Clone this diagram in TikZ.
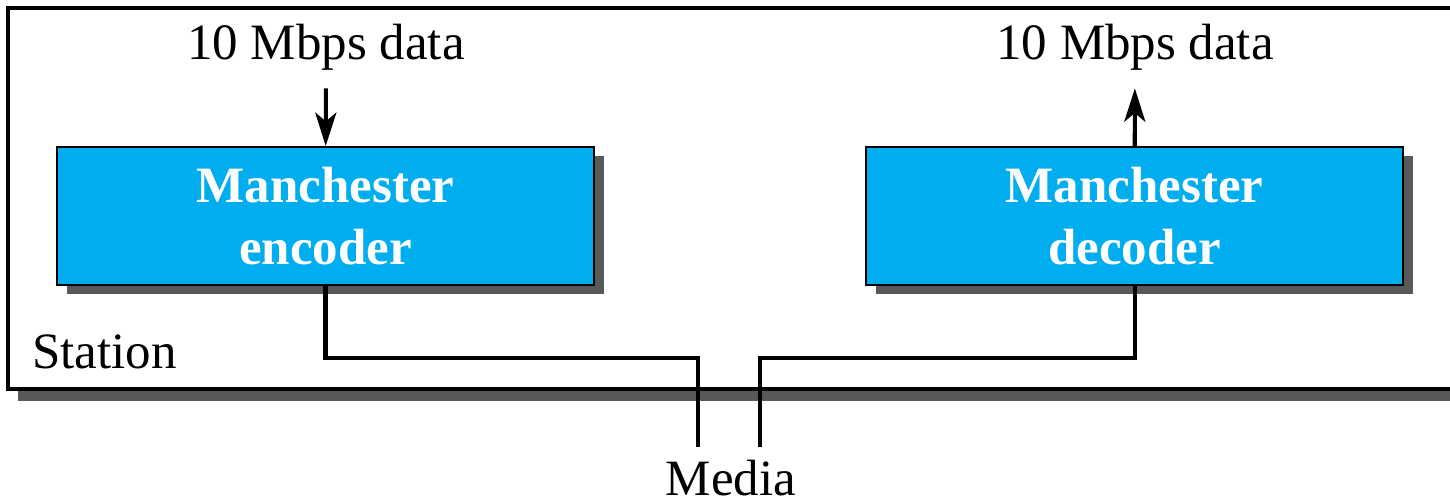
\documentclass[tikz,border=0pt]{standalone}
\usepackage{fontspec}
\setmainfont{Liberation Serif}
\usepackage{tikz}
\usetikzlibrary{arrows.meta}
\usetikzlibrary{shadows}
\definecolor{codblue}{HTML}{00AEEF}
\definecolor{shadowgray}{HTML}{58595B}
\tikzstyle{box}=[rectangle, draw=black, line width=0.6pt, fill=codblue, text=white, font=\fontsize{14.5}{17.5}\selectfont\bfseries, align=center, minimum width=5.37cm, minimum height=1.38cm, drop shadow={shadow xshift=0.1cm, shadow yshift=-0.09cm, fill=shadowgray, opacity=1}]
\tikzstyle{lbl}=[font=\fontsize{14.5}{17}\selectfont, inner sep=1pt]
\tikzset{sig/.style={line width=1.15pt, >={Stealth[length=9.5pt,width=6pt,inset=2.5pt]}}}

\begin{document}
\begin{tikzpicture}
		\useasboundingbox (0,0) rectangle (14.5,-5.01);
		\clip (0,0) rectangle (14.5,-5.01);
		% station frame
		\fill[shadowgray] (0.18,-0.18) rectangle (15.1,-4.01);
		\draw[line width=1pt, fill=white] (0.08,-0.08) rectangle (15,-3.89);
		\node[lbl, anchor=base west] (station) at (0.28,-3.68) {Station};
		% encoder / decoder
		\node[box] (enc) at (3.255,-2.16) {Manchester\\encoder};
		\node[box] (dec) at (11.345,-2.16) {Manchester\\decoder};
		\node[lbl] (din) at (3.26,-0.47) {10 Mbps data};
		\node[lbl] (dout) at (11.35,-0.47) {10 Mbps data};
		\draw[sig,->,shorten <=4pt] (din) -- (enc);
		\draw[sig,->,shorten >=4pt] (dec) -- (dout);
		% media
		\coordinate (m1) at (6.98,-4.47);
		\coordinate (m2) at (7.60,-4.47);
		\node[lbl, anchor=base] (media) at (7.31,-4.95) {Media};
		\draw[sig] (enc.south) -- ++(0,-0.72) -| (m1);
		\draw[sig] (dec.south) -- ++(0,-0.72) -| (m2);
		\end{tikzpicture}
\end{document}
